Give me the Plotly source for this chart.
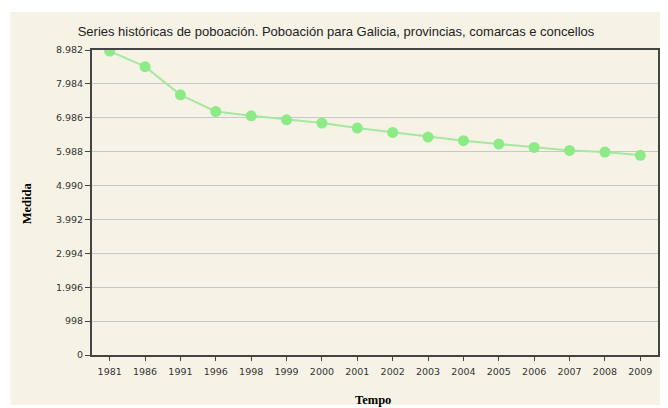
import plotly.graph_objects as go

years = ["1981", "1986", "1991", "1996", "1998", "1999", "2000", "2001", "2002",
         "2003", "2004", "2005", "2006", "2007", "2008", "2009"]
values = [8950, 8491, 7661, 7171, 7044, 6927, 6830, 6683, 6555,
          6419, 6310, 6213, 6114, 6026, 5978, 5879]
y_ticks = [0, 998, 1996, 2994, 3992, 4990, 5988, 6986, 7984, 8982]
y_ticktext = ["0", "998", "1.996", "2.994", "3.992", "4.990", "5.988", "6.986", "7.984", "8.982"]

title_text = "Series históricas de poboación. Poboación para Galicia, provincias, comarcas e concellos"

# page body adds an 8px offset; work in figure coordinates
OFF = 8
W, H = 668 - OFF, 408 - OFF
L, T = 92 - OFF, 50 - OFF
R = W - (660 - OFF)
B = H - (355 - OFF)
pw = W - L - R
ph = H - T - B


def px_x(sx):
    return (sx - OFF - L) / pw


def px_y(sy):
    return (T + ph - (sy - OFF)) / ph


tick_font = dict(family="DejaVu Sans, Verdana, sans-serif", size=9.5, color="#333333")
label_font = dict(family="Liberation Serif, Times New Roman, serif", size=12.5, color="#000000")

fig = go.Figure()
fig.add_trace(go.Scatter(
    x=years, y=values, mode="lines+markers",
    line=dict(color="#A6E8A0", width=2),
    marker=dict(color="#8CEB86", size=11),
    hoverinfo="x+y",
))

fig.update_layout(
    width=W, height=H,
    margin=dict(l=L, r=R, t=T, b=B),
    paper_bgcolor="white",
    plot_bgcolor="white",
    showlegend=False,
    font=dict(family="Liberation Sans, Arial, sans-serif", size=10, color="#333333"),
    title=dict(text=title_text, xref="container", x=(336 - OFF) / W, xanchor="center",
               yref="container", y=1 - (31 - OFF) / H, yanchor="middle",
               font=dict(family="Liberation Sans, Arial, sans-serif", size=13, color="#222222")),
    shapes=[dict(type="rect", xref="paper", yref="paper",
                 x0=px_x(10), x1=px_x(668), y0=px_y(405), y1=px_y(12),
                 fillcolor="#F6F3E6", line=dict(width=0), layer="below")],
    xaxis=dict(type="category", range=[-0.5, 15.5], showgrid=False,
               showline=True, linecolor="#444444", linewidth=2, mirror=True,
               ticks="outside", ticklen=4, tickcolor="#444444", tickwidth=1,
               ticklabelstandoff=3,
               tickfont=tick_font, zeroline=False),
    yaxis=dict(range=[0, 8982], tickvals=y_ticks, ticktext=y_ticktext,
               showgrid=True, gridcolor="#C8C8C8", gridwidth=1,
               showline=True, linecolor="#444444", linewidth=2, mirror=True,
               ticks="outside", ticklen=5, tickcolor="#444444", tickwidth=1,
               tickfont=tick_font, zeroline=False),
    annotations=[
        dict(text="<b>Tempo</b>", xref="paper", yref="paper",
             x=px_x(374), y=px_y(400), xanchor="center", yanchor="middle",
             showarrow=False, font=label_font),
        dict(text="<b>Medida</b>", xref="paper", yref="paper",
             x=px_x(27), y=px_y(203), xanchor="center", yanchor="middle",
             textangle=-90, showarrow=False, font=label_font),
    ],
)

fig.write_html("out.html")
